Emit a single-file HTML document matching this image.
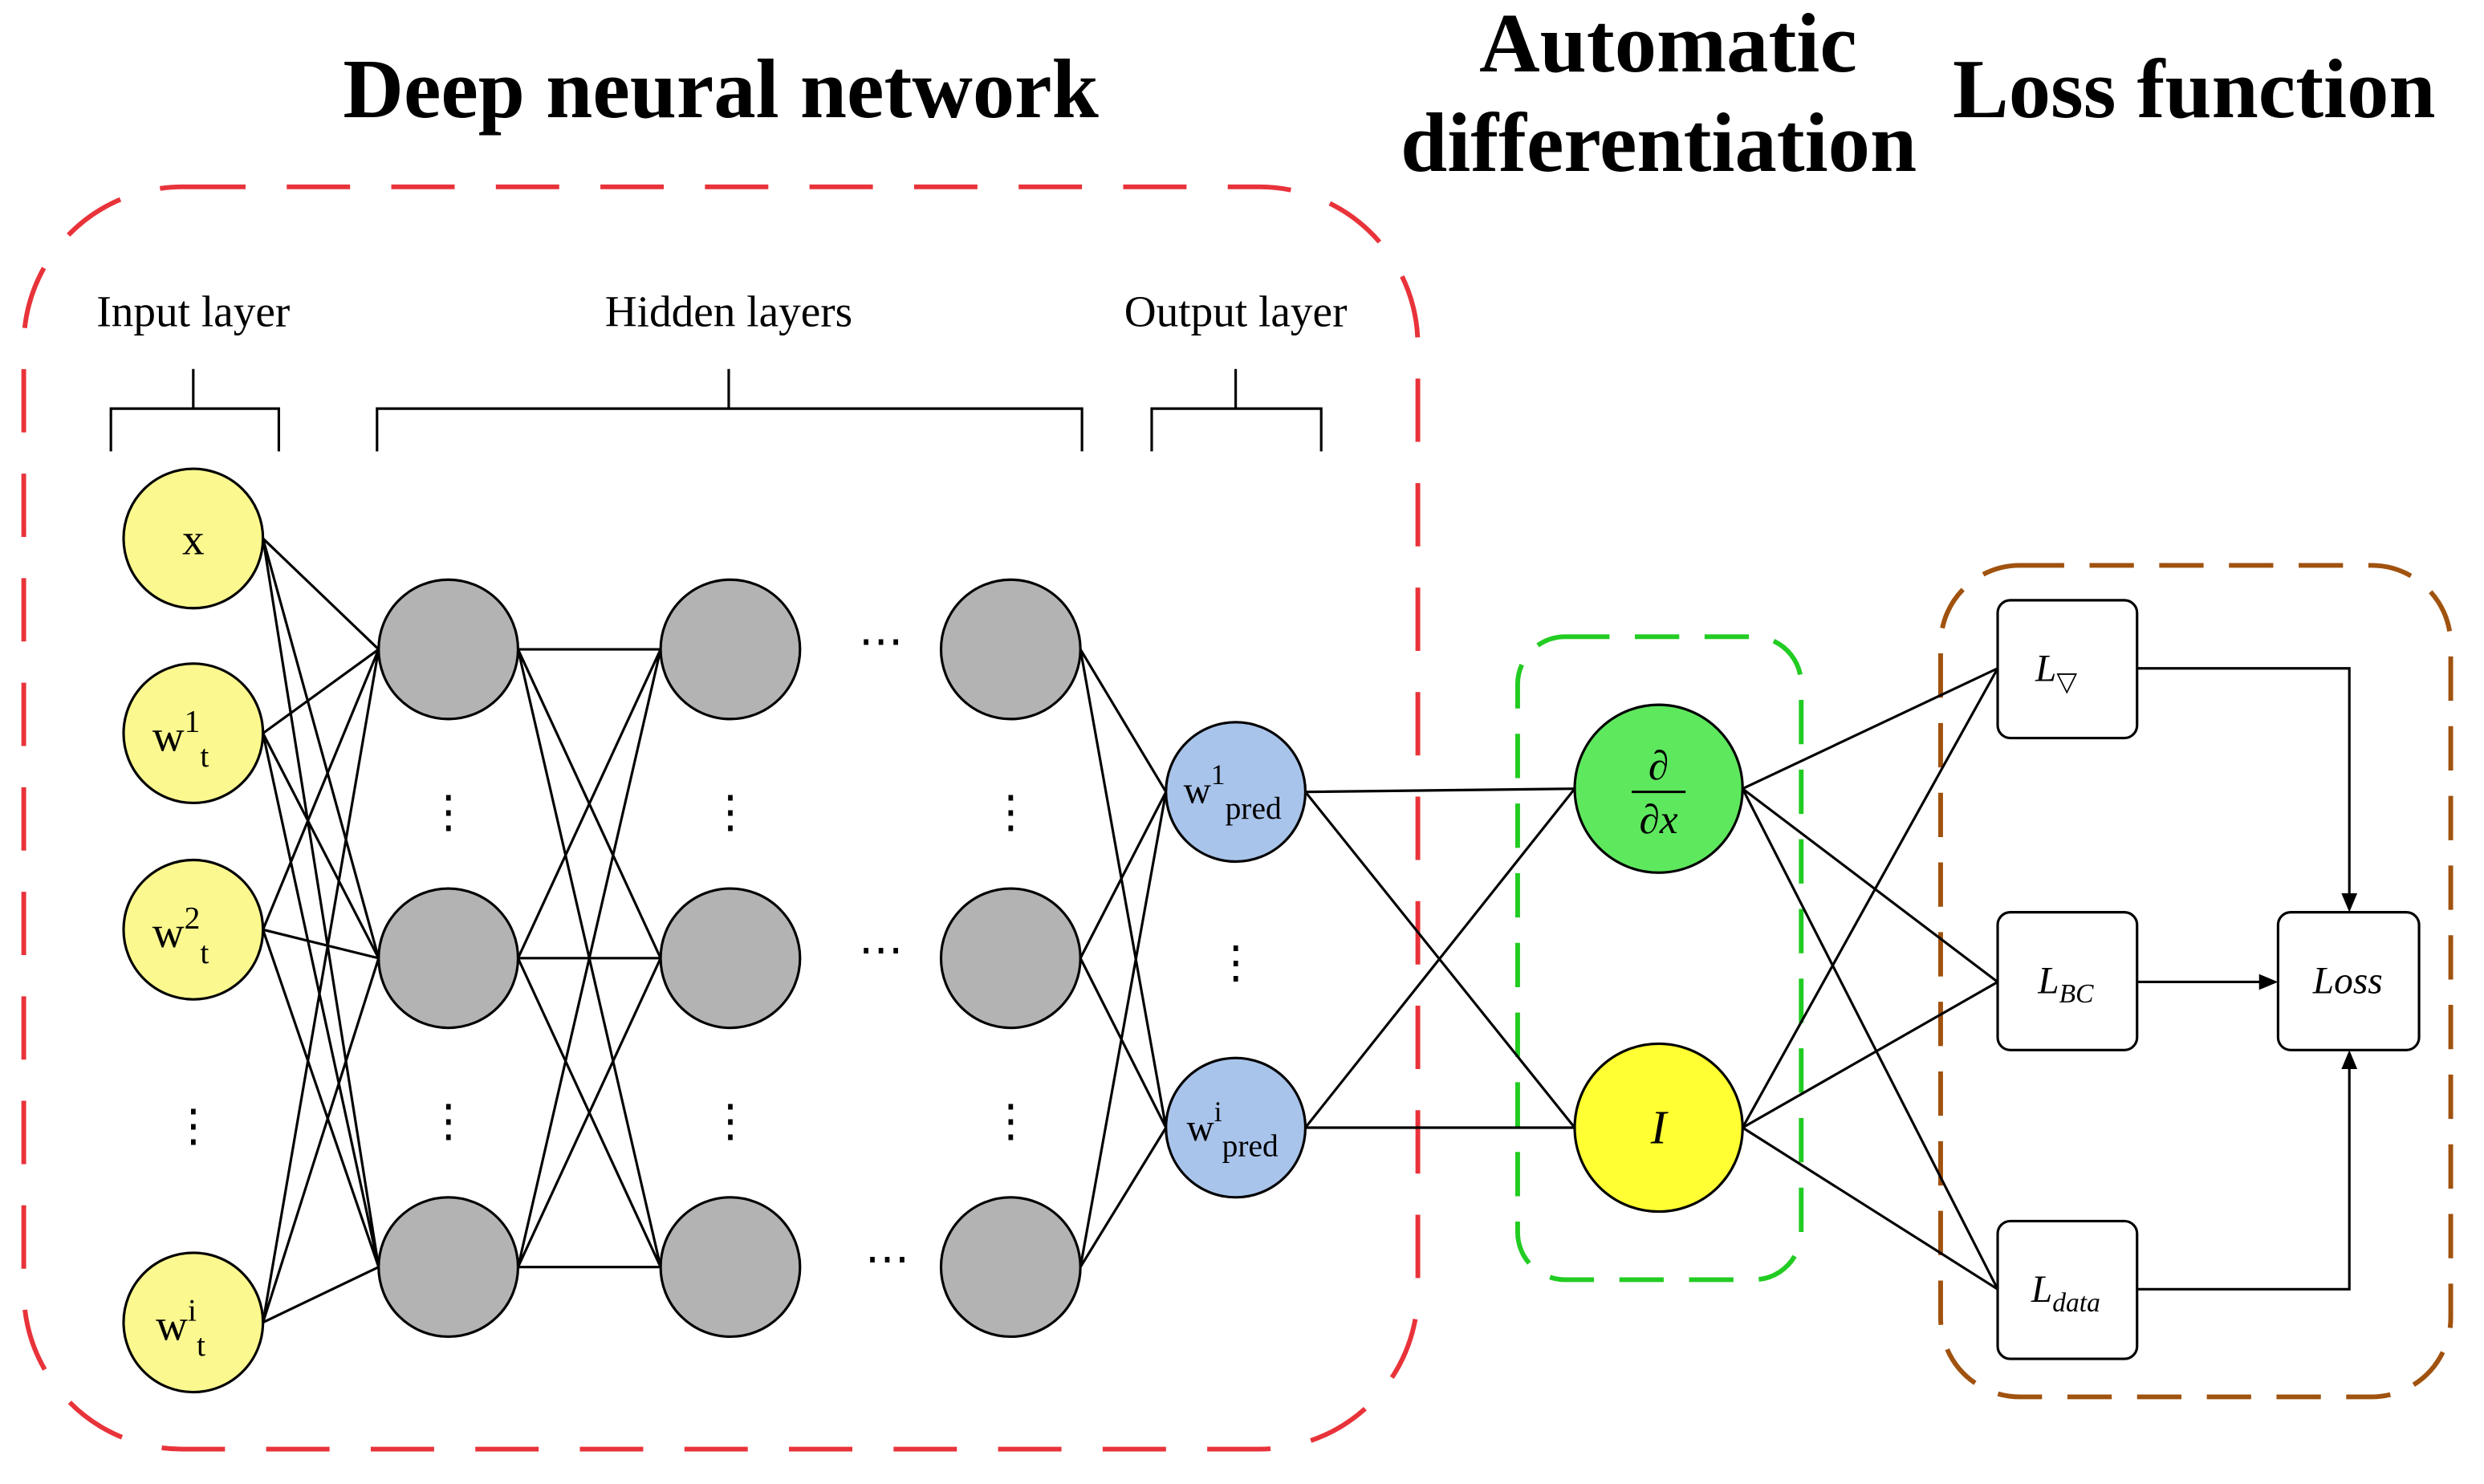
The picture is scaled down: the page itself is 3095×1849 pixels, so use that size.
<!DOCTYPE html>
<html><head><meta charset="utf-8"><style>html,body{margin:0;padding:0;background:#fff}svg{display:block}</style></head>
<body>
<svg width="3095" height="1849" viewBox="0 0 1568 937" preserveAspectRatio="none" xmlns="http://www.w3.org/2000/svg" font-family="Liberation Serif, serif">
<rect width="1600" height="960" fill="#fff"/>
<g font-weight="bold" font-size="53" text-anchor="middle" fill="#000">
<text x="455" y="74">Deep neural network</text>
<text x="1053" y="45">Automatic</text>
<text x="1047" y="108">differentiation</text>
<text x="1385" y="74">Loss function</text>
</g>
<rect x="15" y="118" width="880" height="797" rx="100" fill="none" stroke="#e8333a" stroke-width="3" stroke-dasharray="40 26"/>
<rect x="958" y="402" width="179" height="406" rx="30" fill="none" stroke="#22cc22" stroke-width="3" stroke-dasharray="28 16"/>
<rect x="1225" y="357" width="322" height="525" rx="50" fill="none" stroke="#a0520f" stroke-width="3" stroke-dasharray="28 16"/>
<g font-size="28" text-anchor="middle">
<text x="122" y="206">Input layer</text>
<text x="460" y="206">Hidden layers</text>
<text x="780" y="206">Output layer</text>
</g>
<g stroke="#000" stroke-width="1.6" fill="none">
<path d="M122 233V258M70 285V258H176V285"/>
<path d="M460 233V258M238 285V258H683V285"/>
<path d="M780 233V258M727 285V258H834V285"/>
<path d="M166 340L239 410M166 340L239 605M166 340L239 800
M166 463L239 410M166 463L239 605M166 463L239 800
M166 587L239 410M166 587L239 605M166 587L239 800
M166 835L239 410M166 835L239 605M166 835L239 800"/>
<path d="M327 410L417 410M327 410L417 605M327 410L417 800
M327 605L417 410M327 605L417 605M327 605L417 800
M327 800L417 410M327 800L417 605M327 800L417 800"/>
<path d="M682 410L736 500M682 410L736 712M682 605L736 500M682 605L736 712M682 800L736 500M682 800L736 712"/>
<path d="M824 500L994 498M824 500L994 712M824 712L994 498M824 712L994 712"/>
<path d="M1100 498L1261 422M1100 498L1261 620M1100 498L1261 814M1100 712L1261 422M1100 712L1261 620M1100 712L1261 814"/>
<path d="M1349 422H1483V570M1349 620H1432M1349 814H1483V669"/>
</g>
<g fill="#000">
<path d="M1483 576l-5 -12h10z"/>
<path d="M1438 620l-12 -5v10z"/>
<path d="M1483 663l-5 12h10z"/>
</g>
<g stroke="#000" stroke-width="1.6">
<g fill="#fbf88f"><circle cx="122" cy="340" r="44"/><circle cx="122" cy="463" r="44"/><circle cx="122" cy="587" r="44"/><circle cx="122" cy="835" r="44"/></g>
<g fill="#b3b3b3">
<circle cx="283" cy="410" r="44"/><circle cx="283" cy="605" r="44"/><circle cx="283" cy="800" r="44"/>
<circle cx="461" cy="410" r="44"/><circle cx="461" cy="605" r="44"/><circle cx="461" cy="800" r="44"/>
<circle cx="638" cy="410" r="44"/><circle cx="638" cy="605" r="44"/><circle cx="638" cy="800" r="44"/>
</g>
<g fill="#a9c4eb"><circle cx="780" cy="500" r="44"/><circle cx="780" cy="712" r="44"/></g>
<circle cx="1047" cy="498" r="53" fill="#5ee85e"/>
<circle cx="1047" cy="712" r="53" fill="#ffff33"/>
<g fill="#fff"><rect x="1261" y="379" width="88" height="87" rx="8"/><rect x="1261" y="576" width="88" height="87" rx="8"/><rect x="1261" y="771" width="88" height="87" rx="8"/><rect x="1438" y="576" width="89" height="87" rx="8"/></g>
</g>
<g font-size="28" text-anchor="middle">
<text x="122" y="350">x</text>
<text x="114" y="474">w<tspan font-size="20" dy="-12">1</tspan><tspan font-size="20" dy="22">t</tspan></text>
<text x="114" y="598">w<tspan font-size="20" dy="-12">2</tspan><tspan font-size="20" dy="22">t</tspan></text>
<text x="114" y="846">w<tspan font-size="20" dy="-12">i</tspan><tspan font-size="20" dy="22">t</tspan></text>
<text x="122" y="720">⋮</text>
<text x="283" y="522">⋮</text><text x="283" y="717">⋮</text>
<text x="461" y="522">⋮</text><text x="461" y="717">⋮</text>
<text x="638" y="522">⋮</text><text x="638" y="717">⋮</text>
<text x="780" y="617">⋮</text>
<text x="556" y="414">⋯</text><text x="556" y="609">⋯</text><text x="560" y="804">⋯</text>
<text x="778" y="507" font-size="24">w<tspan font-size="18" dy="-12">1</tspan><tspan font-size="20" dy="22">pred</tspan></text>
<text x="778" y="720" font-size="24">w<tspan font-size="18" dy="-12">i</tspan><tspan font-size="20" dy="22">pred</tspan></text>
<text x="1047" y="492" font-style="italic" font-size="26">∂</text>
<line x1="1030" y1="500" x2="1064" y2="500" stroke="#000" stroke-width="1.5"/>
<text x="1047" y="526" font-style="italic" font-size="26">∂x</text>
<text x="1047" y="722" font-style="italic" font-size="30">I</text>
<text x="1298" y="430" font-style="italic" font-size="24">L<tspan font-size="17" dy="6" font-style="normal">▽</tspan></text>
<text x="1304" y="627" font-style="italic" font-size="24">L<tspan font-size="17" dy="6">BC</tspan></text>
<text x="1304" y="822" font-style="italic" font-size="24">L<tspan font-size="17" dy="6">data</tspan></text>
<text x="1482" y="627" font-style="italic" font-size="24">Loss</text>
</g>
</svg>
</body></html>
